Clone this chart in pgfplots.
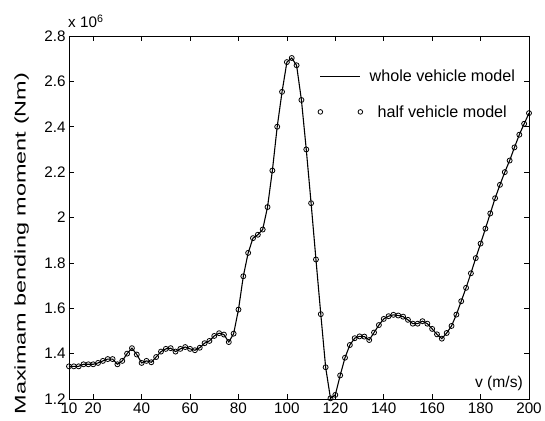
\documentclass[border=0pt]{standalone}
\usepackage{pgfplots}
\pgfplotsset{compat=1.18}
\usepackage{pgfplotstable}
\usepackage{fontspec}
\setmainfont{Liberation Sans}
\pgfplotstableread{
v M
10 1.344
12 1.344
14 1.344
16 1.353
18 1.353
20 1.353
22 1.359
24 1.368
26 1.376
28 1.376
30 1.353
32 1.368
34 1.400
36 1.424
38 1.396
40 1.359
42 1.368
44 1.362
46 1.385
48 1.409
50 1.421
52 1.424
54 1.409
56 1.421
58 1.429
60 1.421
62 1.415
64 1.426
66 1.446
68 1.456
70 1.478
72 1.490
74 1.484
76 1.451
78 1.488
80 1.594
82 1.741
84 1.844
86 1.909
88 1.924
90 1.947
92 2.046
94 2.207
96 2.400
98 2.554
100 2.685
102 2.703
104 2.671
106 2.518
108 2.300
110 2.063
112 1.815
114 1.574
116 1.340
118 1.203
120 1.218
122 1.304
124 1.382
126 1.438
128 1.468
130 1.476
132 1.475
134 1.460
136 1.493
138 1.526
140 1.553
142 1.565
144 1.571
146 1.568
148 1.563
150 1.549
152 1.532
154 1.532
156 1.543
158 1.532
160 1.509
162 1.485
164 1.466
166 1.491
168 1.522
170 1.572
172 1.631
174 1.690
176 1.754
178 1.821
180 1.885
182 1.951
184 2.018
186 2.085
188 2.144
190 2.200
192 2.251
194 2.309
196 2.365
198 2.413
200 2.460
}\datatable
\begin{document}
\begin{tikzpicture}
\begin{axis}[
  scale only axis, width=460bp, height=363bp,
  at={(0,0)}, anchor=south west,
  xmin=10, xmax=200, ymin=1.2, ymax=2.8,
  xtick={10,20,40,60,80,100,120,140,160,180,200},
  ytick={1.2,1.4,1.6,1.8,2,2.2,2.4,2.6,2.8},
  tick align=inside, major tick length=5bp,
  axis line style={line width=0.9bp},
  every tick/.style={black, line width=0.7bp},
  /pgf/number format/assume math mode=true,
  ticklabel style={font=\fontsize{15.3}{18}\selectfont},
  xticklabel style={yshift=0bp},
  every axis y label/.style={at={(axis description cs:-0.103,0.428)}, anchor=center, rotate=90, xscale=1.52, font=\fontsize{15.5}{18}\selectfont},
  ylabel={Maximam bending moment (Nm)},
  clip=false,
  legend style={draw=none, fill=none, at={(axis description cs:0.541,0.912)}, anchor=north west, font=\fontsize{16.2}{19}\selectfont, row sep=18bp, inner sep=0pt},
  legend cell align=left,
]
\addplot[black, line width=1.1bp, legend image code/.code={\draw[black,line width=1bp] (0bp,0bp) -- (40bp,0bp);}] table[x=v,y=M] {\datatable};
\addlegendentry{\hspace*{5bp}whole vehicle model}
\addplot[black, only marks, mark=o, mark size=2.5bp, mark options={line width=0.8bp}, legend image code/.code={\draw[black, line width=0.8bp] plot[only marks, mark=o, mark size=2.3bp] coordinates {(0bp,0bp) (40bp,0bp)};}] table[x=v,y=M] {\datatable};
\addlegendentry{\hspace*{13bp}half vehicle model}
\node[anchor=base east, inner sep=0pt, font=\fontsize{15.7}{18}\selectfont] at (axis description cs:0.987,0.033) {v (m/s)};
\node[anchor=base west, inner sep=0pt, font=\fontsize{15.3}{18}\selectfont] at (axis description cs:0,1) [xshift=-1bp, yshift=8bp] {x 10\textsuperscript{6}};
\end{axis}
\pgfresetboundingbox
\path (-69bp,-22bp) rectangle (476bp,399bp);
\end{tikzpicture}
\end{document}
